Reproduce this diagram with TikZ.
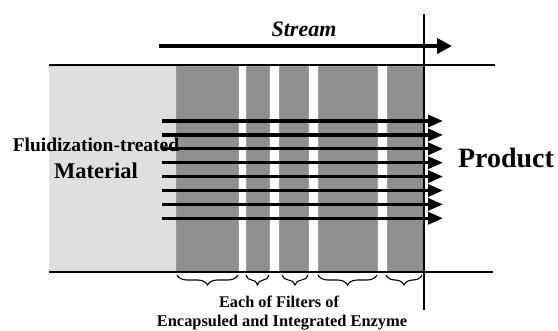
\documentclass[tikz,border=0pt]{standalone}
\usepackage{fontspec}
\setmainfont{Liberation Serif}
\usetikzlibrary{decorations.pathreplacing,arrows.meta}
\definecolor{lightfill}{HTML}{DFDFDF}
\definecolor{filterfill}{HTML}{8F8F8F}
\definecolor{filteredge}{HTML}{9C9C9C}
\begin{document}
\begin{tikzpicture}[x=1pt,y=-1pt,
  filterbox/.style={fill=filterfill,draw=filteredge,line width=0.8pt},
  wall/.style={line width=2.8pt,black},
  flow/.style={line width=3.3pt,-{Triangle[length=15pt,width=12pt]}},
  filterbrace/.style={decorate,decoration={brace,mirror,amplitude=10pt},line width=1.1pt},
  lbl/.style={font=\bfseries,anchor=base,inner sep=0pt}]
\useasboundingbox (0,0) rectangle (558,331);
% material region
\fill[lightfill] (49,65) rectangle (176,272);
% filters
\draw[filterbox] (176.5,66) rectangle (238.5,271);
\draw[filterbox] (246.5,66) rectangle (269.5,271);
\draw[filterbox] (279.5,66) rectangle (308,271);
\draw[filterbox] (318,66) rectangle (377.5,271);
\draw[filterbox] (387,66) rectangle (423,271);
% walls
\coordinate (tl) at (49,65); \coordinate (tr) at (495,65);
\coordinate (bl) at (49,272); \coordinate (br) at (493,272);
\draw[wall] (tl) -- (tr);
\draw[wall] (bl) -- (br);
% outlet plane
\coordinate (vt) at (424,14); \coordinate (vb) at (424,310);
\draw[line width=1.3pt] (vt) -- (vb);
% labels
\node[lbl,font=\bfseries\fontsize{19.5}{20}\selectfont] (fl1) at (96,152) {Fluidization-treated};
\node[lbl,font=\bfseries\fontsize{22.5}{24}\selectfont] (fl2) at (96,179) {Material};
\node[lbl,font=\bfseries\fontsize{28}{29}\selectfont] (prod) at (506,168) {Product};
\node[lbl,font=\bfseries\itshape\fontsize{22}{23}\selectfont] (stream) at (304,37) {Stream};
\node[lbl,font=\bfseries\fontsize{16.3}{18}\selectfont] (each1) at (279,308) {Each of Filters of};
\node[lbl,font=\bfseries\fontsize{16.4}{18}\selectfont] (each2) at (282,327) {Encapsuled and Integrated Enzyme};
% stream arrow
\coordinate (s1) at (159,46); \coordinate (s2) at (452,46);
\draw[line width=4pt,-{Triangle[length=15pt,width=15pt]}] (s1) -- (s2);
% flow arrows
\foreach \k in {0,...,7}{
  \coordinate (a\k) at (162,{121+13.9*\k});
  \coordinate (b\k) at (443,{121+13.9*\k});
  \draw[flow] (a\k) -- (b\k);
}
% braces
\draw[filterbrace] (177,275) -- (238,275);
\draw[filterbrace] (246,275) -- (269,275);
\draw[filterbrace] (282,275) -- (308,275);
\draw[filterbrace] (318,275) -- (377,275);
\draw[filterbrace] (386,275) -- (422,275);
\end{tikzpicture}
\end{document}
